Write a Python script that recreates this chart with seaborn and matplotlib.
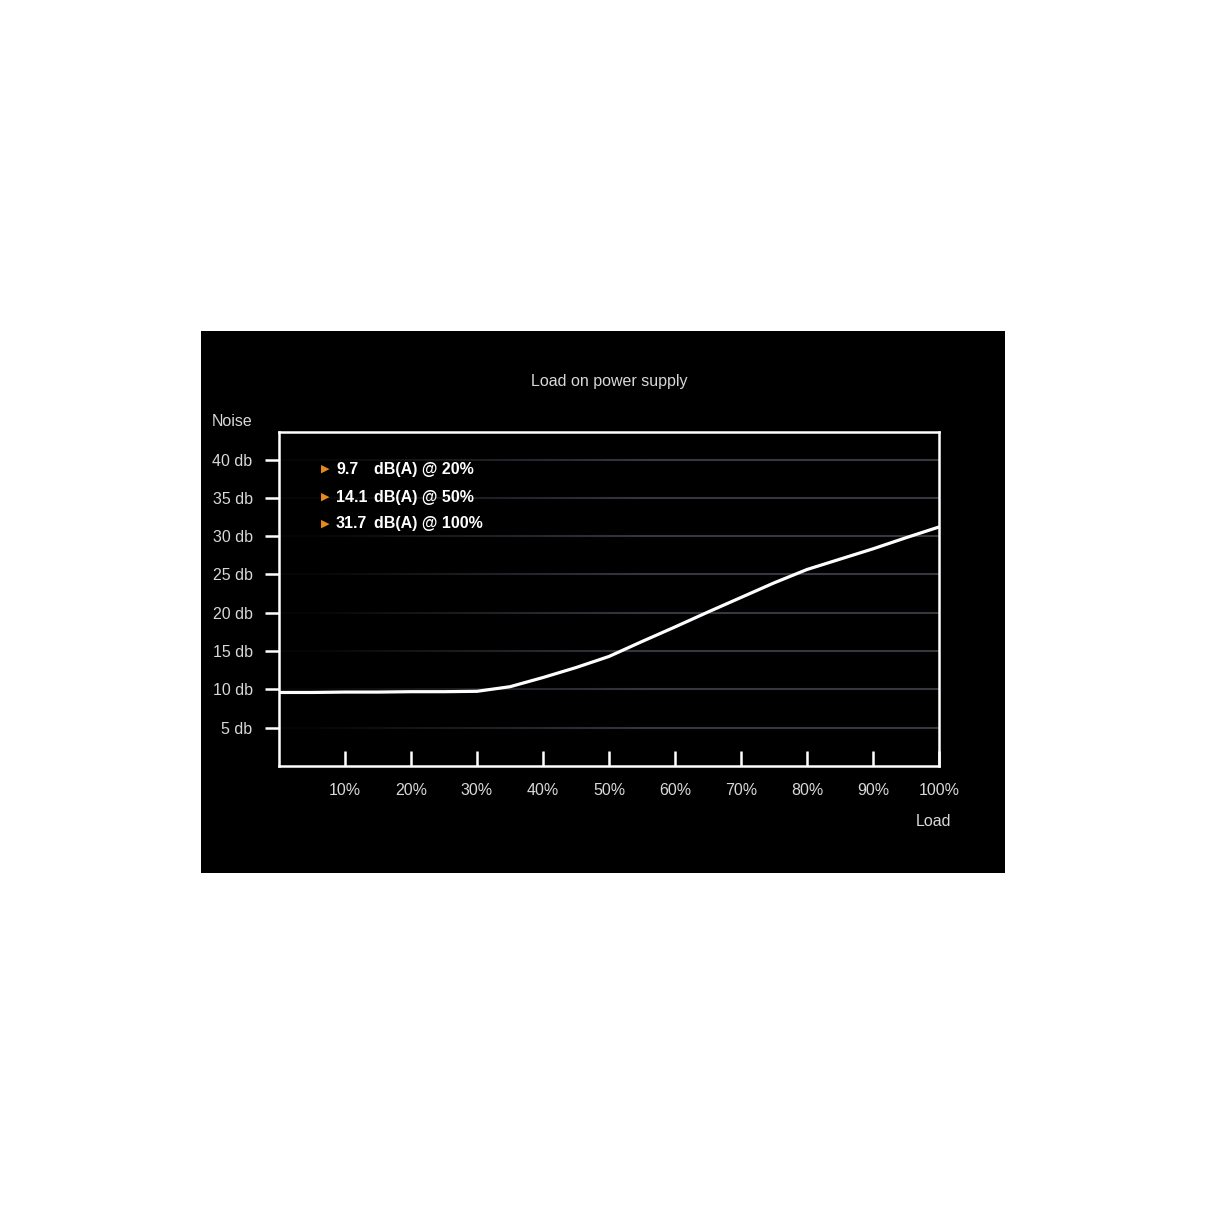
import numpy as np
import pandas as pd
import matplotlib
matplotlib.use("Agg")
import matplotlib.pyplot as plt
from matplotlib.patches import Rectangle
from matplotlib.collections import LineCollection
import seaborn as sns

# curve (load in %, noise in db)
load = [0, 5, 10, 15, 20, 25, 30, 35, 40, 45, 50, 55, 60, 65, 70, 75, 80, 85, 90, 95, 100]
noise = [9.6, 9.6, 9.65, 9.65, 9.7, 9.7, 9.75, 10.35, 11.55, 12.85, 14.3, 16.25, 18.15, 20.1,
         22.0, 23.9, 25.65, 27.0, 28.35, 29.8, 31.2]

x_ticks = [10, 20, 30, 40, 50, 60, 70, 80, 90, 100]
x_labels = ["10%", "20%", "30%", "40%", "50%", "60%", "70%", "80%", "90%", "100%"]
y_ticks = [5, 10, 15, 20, 25, 30, 35, 40]
y_labels = ["5 db", "10 db", "15 db", "20 db", "25 db", "30 db", "35 db", "40 db"]

spec_values = ["9.7", "14.1", "31.7"]
spec_loads = ["20%", "50%", "100%"]

df = pd.DataFrame({"Load": load, "Noise": noise})

sns.set_style("white")
plt.rcParams["font.family"] = ["Liberation Sans", "DejaVu Sans"]

W = 1214
fig = plt.figure(figsize=(12.14, 12.14), dpi=100)
fig.patch.set_facecolor("white")

# black panel behind the chart
fig.patches.append(Rectangle((201 / W, 341 / W), 804 / W, 542 / W,
                             transform=fig.transFigure, facecolor="black",
                             edgecolor="none", zorder=-5))

ax = fig.add_axes([279 / W, 448 / W, 660 / W, 334 / W])
ax.set_zorder(2)
ax.set_facecolor("black")

# faint grid lines that fade out towards the left
for yv in y_ticks:
    xs = np.linspace(0, 100, 80)
    segs = [[(xs[i], yv), (xs[i + 1], yv)] for i in range(len(xs) - 1)]
    alphas = np.clip((xs[:-1] - 5) / 50, 0, 1)
    cols = [(0.21, 0.22, 0.25, 0.1 + 0.9 * a) for a in alphas]
    ax.add_collection(LineCollection(segs, colors=cols, linewidths=1.5, zorder=1))

sns.lineplot(data=df, x="Load", y="Noise", ax=ax, color="white", linewidth=2.3, zorder=3)

ax.set_xlim(0, 100)
ax.set_ylim(0, 43.6)
ax.set_xticks(x_ticks)
ax.set_xticklabels(x_labels)
ax.set_yticks(y_ticks)
ax.set_yticklabels(y_labels)
ax.set_xlabel("")
ax.set_ylabel("")

for s in ax.spines.values():
    s.set_color("white")
    s.set_linewidth(1.8)
    s.set_visible(True)

ax.tick_params(axis="x", direction="in", length=11, width=1.8, color="white",
               labelcolor="#d8d8d8", labelsize=11.5, pad=12)
ax.tick_params(axis="y", direction="out", length=10, width=1.8, color="white",
               labelcolor="#d8d8d8", labelsize=11.5, pad=9)
ax.tick_params(axis="x", which="both", bottom=True, top=False)
ax.tick_params(axis="y", which="both", left=True, right=False)

# spec lines in the upper left
rows_y = [0.889, 0.805, 0.7246]
for val, ld, yy in zip(spec_values, spec_loads, rows_y):
    ax.text(0.063, yy, "\u25B6", transform=ax.transAxes, color="#e8891c",
            fontsize=8, va="center", ha="left", family=["DejaVu Sans"])
    ax.text(0.0864, yy, val, transform=ax.transAxes, color="white",
            fontsize=11.5, fontweight="bold", va="center", ha="left")
    ax.text(0.1445, yy, "dB(A) @ " + ld, transform=ax.transAxes, color="white",
            fontsize=11.5, fontweight="bold", va="center", ha="left")

fig.text(609 / W, 1 - 382 / W, "Load on power supply", color="#d8d8d8",
         fontsize=11.5, ha="center", va="center")
fig.text(232 / W, 1 - 421 / W, "Noise", color="#d8d8d8",
         fontsize=11.5, ha="center", va="center")
fig.text(934 / W, 1 - 821 / W, "Load", color="#d8d8d8",
         fontsize=11.5, ha="center", va="center")

fig.savefig("out.png", dpi=100, facecolor="white")
